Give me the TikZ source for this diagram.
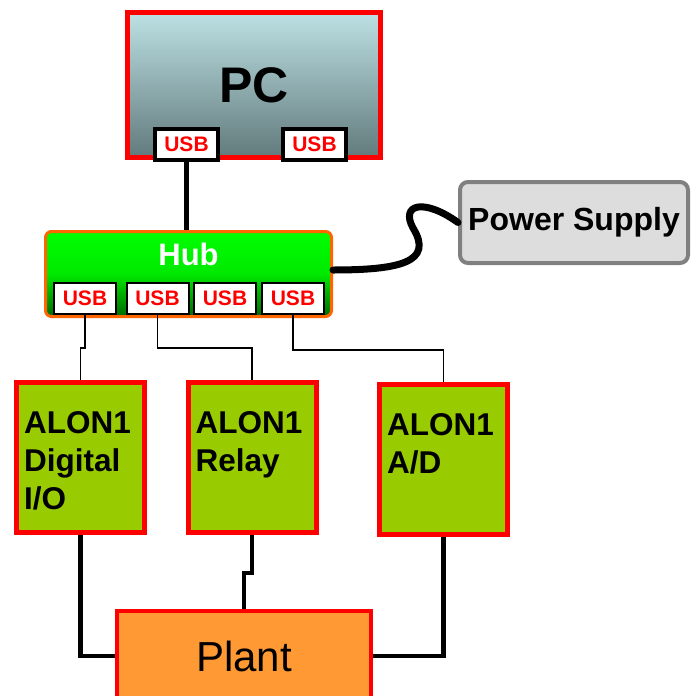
\documentclass[tikz,border=0pt]{standalone}
\usepackage{fontspec}
\setmainfont{Liberation Sans}
\usepackage{xcolor}
\usetikzlibrary{calc}
\definecolor{boxred}{HTML}{FF0000}
\definecolor{alongreen}{HTML}{99CC00}
\definecolor{plantorange}{HTML}{FF9933}
\definecolor{pctop}{HTML}{BDE1E4}
\definecolor{pcbottom}{HTML}{627A7C}
\definecolor{hubtop}{HTML}{00FF00}
\definecolor{hubbottom}{HTML}{006A00}
\definecolor{huborange}{HTML}{FF6600}
\definecolor{psugray}{HTML}{808080}
\definecolor{psufill}{HTML}{DDDDDD}
\tikzset{
  pc box/.style={
    draw=boxred, line width=5pt, inner sep=0pt,
    minimum width=253pt, minimum height=145pt,
    top color=pctop, bottom color=pcbottom,
    font=\fontsize{50}{50}\selectfont\bfseries
  },
  usb port/.style={
    draw=black, fill=white, line width=4pt, inner sep=0pt,
    minimum width=63pt, minimum height=31pt,
    text=boxred, font=\fontsize{21}{21}\selectfont\bfseries
  },
  hub port/.style={
    usb port, line width=2pt, minimum width=62pt
  },
  hub box/.style={
    draw=huborange, line width=3pt, rounded corners=6pt,
    minimum width=286pt, minimum height=85pt,
    top color=hubtop, bottom color=hubbottom, middle color=hubtop!85!hubbottom
  },
  psu box/.style={
    draw=psugray, fill=psufill, line width=4pt, rounded corners=8pt,
    minimum width=228pt, minimum height=81pt,
    font=\fontsize{32}{32}\selectfont\bfseries
  },
  alon box/.style={
    draw=boxred, fill=alongreen, line width=5pt,
    minimum width=128pt, minimum height=150pt
  },
  alon text/.style={
    anchor=north west, inner sep=0pt, align=left,
    font=\fontsize{31.5}{38}\selectfont\bfseries
  },
  plant box/.style={
    draw=boxred, fill=plantorange, line width=4pt,
    minimum width=254pt, minimum height=90pt,
    font=\fontsize{42}{42}\selectfont
  },
  usb wire/.style={line width=1.5pt, draw=black},
  io wire/.style={line width=4.5pt, draw=black},
  power cable/.style={line width=7pt, draw=black, line cap=round},
}

\begin{document}
\begin{tikzpicture}[x=1pt, y=-1pt]
  \path[clip, use as bounding box] (0,0) rectangle (691,696);

  % PC and its ports
  \node[pc box] (pc) at (254,85) {PC};
  \node[usb port] (pcusbA) at (186.5,144.5) {USB};
  \node[usb port] (pcusbB) at (314.5,144.5) {USB};

  % Hub
  \node[hub box] (hub) at (188.5,274) {};
  \node[font=\fontsize{31}{31}\selectfont\bfseries, text=white] (hublabel)
    at ([yshift=20pt]hub.center) {Hub};
  \foreach \px/\nm in {85/A, 157.5/B, 225/C, 293/D}
    \node[hub port] (hubusb\nm) at (\px,298.5) {USB};

  % Power supply
  \node[psu box] (psu) at (574,222.5) {Power Supply};

  % ALON1 modules
  \node[alon box] (alonA) at (80.5,457.5) {};
  \node[alon box] (alonB) at (252,457.5) {};
  \node[alon box] (alonC) at (443.5,459.5) {};
  \node[alon text] (alonAtext) at ([xshift=10pt,yshift=-31pt]alonA.north west) {ALON1\\Digital\\I/O};
  \node[alon text] (alonBtext) at ([xshift=10pt,yshift=-31pt]alonB.north west) {ALON1\\Relay};
  \node[alon text] (alonCtext) at ([xshift=10pt,yshift=-31pt]alonC.north west) {ALON1\\A/D};

  % Plant
  \node[plant box] (plant) at (244,656) {Plant};

  % PC to hub
  \draw[io wire] (pcusbA.south) -- (pcusbA.south |- hub.north);

  % Hub to power supply
  \draw[power cable] ([yshift=4pt]hub.east)
    .. controls (400,270) and (434,262) .. (413,228)
    .. controls (400,204) and (424,198) .. (psu.west);

  % USB wires
  \draw[usb wire] (hubusbA.south) -- ++(0,33) -| (alonA.north);
  \draw[usb wire] (hubusbB.south) -- ++(0,33) -| (alonB.north);
  \draw[usb wire] (hubusbD.south) -- ++(0,35) -| (alonC.north);

  % Modules to plant
  \draw[io wire] (alonA.south) |- (plant.west);
  \draw[io wire] (alonB.south) -- ++(0,38) -| (plant.north);
  \draw[io wire] (alonC.south) |- (plant.east);

\end{tikzpicture}
\end{document}
